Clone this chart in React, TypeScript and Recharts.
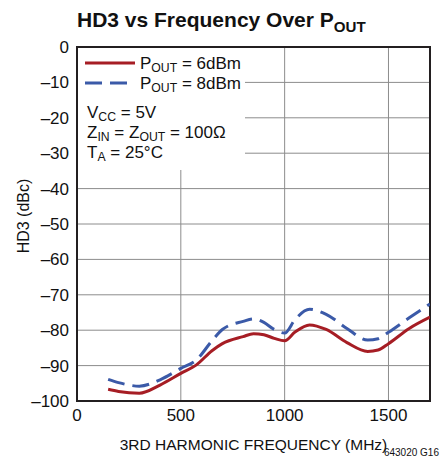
import React from 'react';
import { LineChart, Line, XAxis, YAxis, CartesianGrid, Legend, ReferenceArea } from 'recharts';

const frequencies = [150, 200, 300, 400, 500, 575, 650, 700, 800, 850, 900, 950, 1000, 1050, 1120, 1200, 1300, 1400, 1450, 1500, 1600, 1700];
const hd3Pout6 = [-96.7, -97.3, -97.8, -95.5, -92.2, -89.8, -85.8, -83.8, -81.8, -81.0, -81.3, -82.3, -83.0, -80.5, -78.5, -79.8, -83.5, -86.0, -85.6, -83.8, -79.5, -76.3];
const hd3Pout8 = [-93.9, -94.8, -95.8, -94.0, -90.8, -88.4, -83.0, -79.8, -77.5, -76.8, -77.8, -79.8, -80.8, -77.0, -74.1, -75.5, -79.5, -82.8, -82.4, -80.6, -76.5, -72.6];
const xTicks = [0, 500, 1000, 1500];
const yTicks = [0, -10, -20, -30, -40, -50, -60, -70, -80, -90, -100];
const poutLevels = ['6dBm', '8dBm'];

const data = frequencies.map((f, i) => ({ f, p6: hd3Pout6[i], p8: hd3Pout8[i] }));

const FONT = '"Liberation Sans", Arial, sans-serif';
const RED = '#a61d24';
const BLUE = '#3b5aa8';

const sub = (t: string) => (
  <span style={{ fontSize: '0.72em', verticalAlign: '-0.22em' }}>{t}</span>
);

const LegendBox = (props: any) => {
  const payload = props.payload || [];
  const rowTops = [7, 27];
  return (
    <div style={{ position: 'relative', width: 167, height: 122, background: '#fff', fontFamily: FONT, fontSize: 17, lineHeight: '17px', color: '#111' }}>
      {payload.map((e: any, i: number) => (
        <div key={i} style={{ position: 'absolute', left: 7, top: rowTops[i], whiteSpace: 'nowrap' }}>
          <svg width={50} height={8} style={{ position: 'absolute', left: 0, top: 4 }}>
            <line x1={0} y1={4} x2={50} y2={4} stroke={e.color} strokeWidth={3} strokeDasharray={e.payload && e.payload.strokeDasharray} />
          </svg>
          <span style={{ position: 'absolute', left: 55, top: 0 }}>P{sub('OUT')} = {poutLevels[i]}</span>
        </div>
      ))}
      <div style={{ position: 'absolute', left: 9, top: 56, whiteSpace: 'nowrap' }}>V{sub('CC')} = 5V</div>
      <div style={{ position: 'absolute', left: 9, top: 76, whiteSpace: 'nowrap' }}>Z{sub('IN')} = Z{sub('OUT')} = 100Ω</div>
      <div style={{ position: 'absolute', left: 9, top: 96, whiteSpace: 'nowrap' }}>T{sub('A')} = 25°C</div>
    </div>
  );
};

const fmt = (v: number) => (v < 0 ? '–' + Math.abs(v) : String(v));

export default function App() {
  return (
    <div style={{ position: 'absolute', left: 0, top: 0, width: 448, height: 469, background: '#fff', fontFamily: FONT }}>
      <div style={{ position: 'absolute', left: 77, top: 7, fontSize: 21, fontWeight: 'bold', color: '#111', whiteSpace: 'nowrap', lineHeight: '26px' }}>
        HD3 vs Frequency Over P<span style={{ fontSize: '0.72em', verticalAlign: '-0.3em' }}>OUT</span>
      </div>
      <LineChart width={448} height={469} data={data} margin={{ top: 47, right: 18, bottom: 38, left: 0 }}>
        <CartesianGrid stroke="#8c8c8c" strokeWidth={1} />
        <XAxis
          dataKey="f"
          type="number"
          domain={[0, 1700]}
          ticks={xTicks}
          allowDataOverflow
          height={30}
          tickLine={false}
          axisLine={false}
          tick={{ fill: '#111', fontSize: 17, fontFamily: FONT }}
          label={{ value: '3RD HARMONIC FREQUENCY (MHz)', position: 'bottom', offset: 8, fill: '#111', fontSize: 15.5, fontFamily: FONT }}
        />
        <YAxis
          type="number"
          domain={[-100, 0]}
          ticks={yTicks}
          width={77}
          tickLine={false}
          axisLine={false}
          tickFormatter={fmt}
          tick={{ fill: '#111', fontSize: 17, fontFamily: FONT }}
          label={{ value: 'HD3 (dBc)', angle: -90, position: 'center', dx: -15, dy: -8, fill: '#111', fontSize: 16, fontFamily: FONT }}
        />
        <ReferenceArea x1={0} x2={1700} y1={-100} y2={0} fill="none" stroke="#231f20" strokeWidth={2} />
        <Line type="monotone" dataKey="p6" name="6dBm" stroke={RED} strokeWidth={3} dot={false} isAnimationActive={false} />
        <Line type="monotone" dataKey="p8" name="8dBm" stroke={BLUE} strokeWidth={3} strokeDasharray="17 8" dot={false} isAnimationActive={false} />
        <Legend layout="vertical" verticalAlign="middle" align="center" content={LegendBox} wrapperStyle={{ position: 'absolute', top: 48, left: 78, width: 167, height: 122 }} />
      </LineChart>
      <div style={{ position: 'absolute', right: 9, top: 447, fontSize: 10, color: '#111' }}>643020 G16</div>
    </div>
  );
}
